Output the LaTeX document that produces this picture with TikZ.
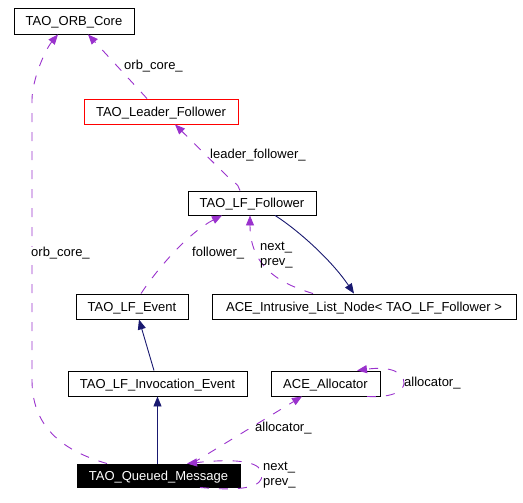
\documentclass[tikz,border=0pt]{standalone}
\usepackage{fontspec}
\setmainfont{Liberation Sans}
\usetikzlibrary{arrows.meta}
\definecolor{orchid}{HTML}{9A32CD}
\definecolor{midnight}{HTML}{191970}

\begin{document}
\begin{tikzpicture}[x=1pt,y=-1pt,
    font=\fontsize{13}{15}\selectfont,
    classbox/.style={draw,line width=0.9pt,inner sep=0pt,minimum height=25pt,
        text height=9.3pt,text depth=0pt},
    usesedge/.style={orchid,line width=0.9pt,dash pattern=on 9pt off 10pt,
        -{Triangle[length=10pt,width=8pt]}},
    inheritedge/.style={midnight,line width=0.9pt,
        -{Triangle[length=10pt,width=8pt]}},
    edgelabel/.style={anchor=west,inner sep=0pt,align=left}]

    % Fix the page size
    \useasboundingbox (0,0) rectangle (523,503);

    % Define the class boxes
    \node[classbox,minimum width=120pt,minimum height=26pt] (orb) at (74,21) {TAO\_ORB\_Core};
    \node[classbox,draw=red,minimum width=154pt] (leader) at (161,111.5) {TAO\_Leader\_Follower};
    \node[classbox,minimum width=128pt,minimum height=24pt] (follower) at (252,203) {TAO\_LF\_Follower};
    \node[classbox,minimum width=304pt] (listnode) at (364,306.5) {ACE\_Intrusive\_List\_Node< TAO\_LF\_Follower >};
    \node[classbox,minimum width=112pt] (event) at (132,306.5) {TAO\_LF\_Event};
    \node[classbox,minimum width=179pt] (invocation) at (157.5,383.5) {TAO\_LF\_Invocation\_Event};
    \node[classbox,minimum width=109pt] (allocator) at (325.5,383.5) {ACE\_Allocator};
    \node[classbox,fill=black,text=white,minimum width=163pt,minimum height=23pt] (queued) at (158.5,475.5) {TAO\_Queued\_Message};

    % Draw the inheritance arrows
    \draw[inheritedge] ([xshift=23pt]follower.south) .. controls (295,228) and (330,258) .. ([xshift=-10pt]listnode.north);
    \draw[inheritedge] ([xshift=-3.5pt]invocation.north) -- ([xshift=7pt]event.south);
    \draw[inheritedge] (queued.north -| invocation.south) -- (invocation.south);

    % Draw the usage arrows
    \draw[usesedge] ([xshift=-14pt]leader.north) -- ([xshift=14pt]orb.south);
    \draw[usesedge] ([xshift=-12pt]follower.north) .. controls (239,186) .. (228,177) -- ([xshift=14pt]leader.south);
    \draw[usesedge] ([xshift=9pt]event.north) .. controls (160,265) and (190,232) .. ([xshift=-30pt]follower.south);
    \draw[usesedge] ([xshift=-51pt]listnode.north) .. controls (285,285) and (250,270) .. ([xshift=-2pt]follower.south);
    \draw[usesedge] ([xshift=-51.5pt]queued.north) .. controls (60,450) and (32,425) .. (32,380)
        -- (32,100) .. controls (32,80) and (45,50) .. ([xshift=-16pt]orb.south);
    \draw[usesedge] ([xshift=33.5pt]queued.north) -- ([xshift=-23.5pt]allocator.south);

    % Draw the self loops
    \draw[usesedge] ([xshift=41.5pt]queued.south) .. controls (250,492) and (262,485) .. (262,475)
        .. controls (262,462) and (240,458) .. ([xshift=28.5pt]queued.north);
    \draw[usesedge] ([xshift=41.5pt]allocator.south) .. controls (395,398) and (404,390) .. (404,383)
        .. controls (404,372) and (390,366) .. ([xshift=31.5pt]allocator.north);

    % Add the labels for the edges
    \node[edgelabel] (lorb) at (124,66) {orb\_core\_};
    \node[edgelabel] (lleader) at (210,155) {leader\_follower\_};
    \node[edgelabel] (lfollower) at (192,253) {follower\_};
    \node[edgelabel] (lnext) at (260,255) {next\_\\prev\_};
    \node[edgelabel,fill=white] (lorbq) at (31,253) {orb\_core\_};
    \node[edgelabel] (lalloc) at (255,428) {allocator\_};
    \node[edgelabel] (lqueued) at (263,475) {next\_\\prev\_};
    \node[edgelabel] (lallocself) at (404,383) {allocator\_};

\end{tikzpicture}
\end{document}
